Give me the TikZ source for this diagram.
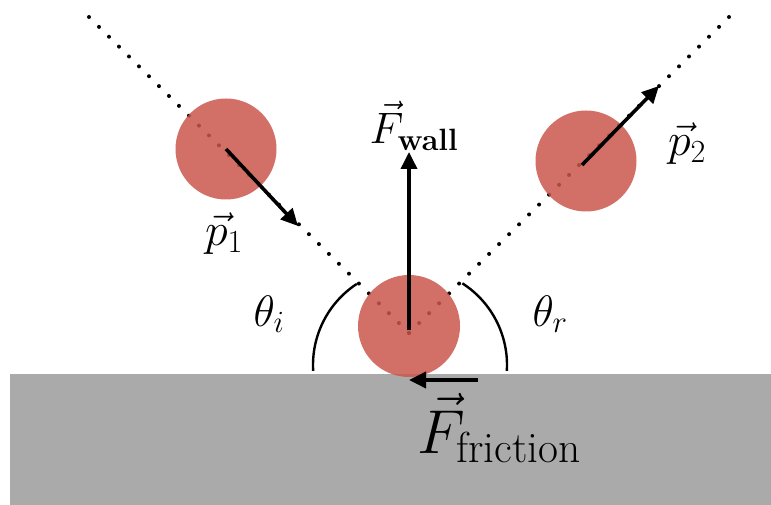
\RequirePackage{fix-cm}
\documentclass[tikz,border=0pt]{standalone}
\usepackage{amsmath}
\usetikzlibrary{arrows.meta}
\definecolor{ballred}{RGB}{202,86,76}
\definecolor{floorgray}{RGB}{170,170,170}
\tikzset{
  ball/.style={circle, fill=ballred, fill opacity=0.85, draw=none, inner sep=0pt, minimum size=#1},
  dotline/.style={line width=4pt, line cap=round, dash pattern=on 0pt off 14.05pt},
  vecarrow/.style={line width=3.6pt, -{Triangle[length=17pt,width=16pt]}},
  anglearc/.style={line width=2.4pt},
  lab/.style={inner sep=0pt, anchor=base}
}
\begin{document}
\begin{tikzpicture}[x=1pt,y=-1pt]
\useasboundingbox (0,0) rectangle (771,505);
% floor
\fill[floorgray] (10,374) rectangle (771,505);
% named points
\coordinate (s1) at (89,17);
\coordinate (s2) at (729,17);
\coordinate (hit) at (409,333);
\coordinate (ctr) at (409,330);
\coordinate (arcc) at (410,365);
% dotted trajectories
\draw[dotline] (s1) -- (hit);
\draw[dotline] (s2) -- (hit);
% balls
\node[ball=101pt] (b1) at (226,149) {};
\node[ball=101pt] (b2) at (586,161) {};
\node[ball=102pt] (b3) at (409,326) {};
% angle arcs
\draw[anglearc] (arcc) ++(176.5:97) arc[start angle=176.5, end angle=236.8, radius=97];
\draw[anglearc] (arcc) ++(-57.3:97) arc[start angle=-57.3, end angle=3.5, radius=97];
% arrow ends
\coordinate (p1tip) at (298,226);
\coordinate (p2tail) at (582,165);
\coordinate (p2tip) at (659,86);
\coordinate (fwtip) at (409,152);
\coordinate (fftail) at (478,380);
\coordinate (fftip) at (409,380);
% arrows
\draw[vecarrow] (b1.center) -- (p1tip);
\draw[vecarrow] (p2tail) -- (p2tip);
\draw[vecarrow] (ctr) -- (fwtip);
\draw[vecarrow] (fftail) -- (fftip);
% labels
\node[lab] (lp1) at (224,246) {\fontsize{46}{50}\selectfont $\vec{p}_1$};
\node[lab] (lp2) at (687,156) {\fontsize{46}{50}\selectfont $\vec{p}_2$};
\node[lab] (lfw) at (414,144) {\fontsize{44}{48}\selectfont $\vec{F}_{\mathbf{wall}}$};
\node[lab] (lff) at (499,453) {\fontsize{62}{66}\selectfont $\vec{F}_{\text{friction}}$};
\node[lab] (lti) at (269,326) {\fontsize{44}{48}\selectfont $\theta_i$};
\node[lab] (ltr) at (550,326) {\fontsize{44}{48}\selectfont $\theta_r$};
\end{tikzpicture}
\end{document}
